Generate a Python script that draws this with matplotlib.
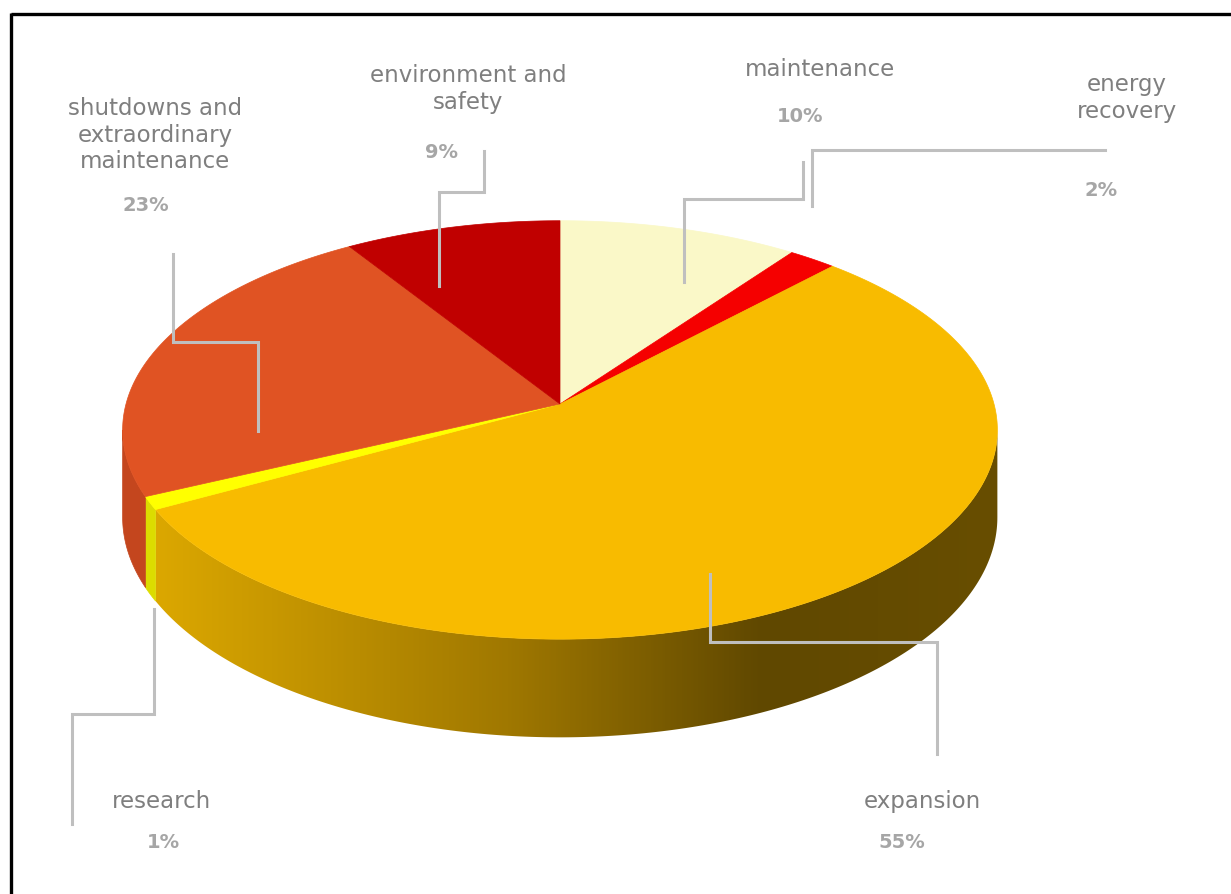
import numpy as np
import matplotlib.pyplot as plt
from matplotlib.patches import Polygon
from matplotlib.colors import LinearSegmentedColormap

# slices, clockwise from 12 o'clock
labels = ["maintenance", "energy\nrecovery", "expansion", "research",
          "shutdowns and\nextraordinary\nmaintenance", "environment and\nsafety"]
values = [10, 2, 55, 1, 23, 9]
pct_text = ["10%", "2%", "55%", "1%", "23%", "9%"]
top_colors = ["#FAF8C8", "#F50000", "#F8BB00", "#FFFF00", "#E05323", "#C00000"]
wall_colors = ["#D8D6A8", "#C80000", None, "#DCDC00", "#C4461E", "#A00000"]

# label layout (pixel coords) and leader paths
label_pos = [(820, 69), (1127, 98), (922, 802), (161, 802), (155, 135), (468, 89)]
pct_pos = [(800, 116), (1101, 190), (902, 843), (163, 843), (146, 205), (441, 152)]
leaders = [
    [(684, 283), (684, 200), (803, 200), (803, 163)],
    [(812, 207), (812, 151), (1105, 151)],
    [(710, 575), (710, 643), (937, 643), (937, 755)],
    [(154, 610), (154, 715), (72, 715), (72, 825)],
    [(258, 432), (258, 343), (173, 343), (173, 255)],
    [(439, 287), (439, 193), (484, 193), (484, 152)],
]

W, H_PX = 1231, 895
cx, cy = 560, 405
R, B, k, depth = 434, 206, 0.124, 86


def proj(theta, down=0.0):
    t = np.radians(theta)
    u, v = np.sin(t), np.cos(t)
    s = 1.0 / (1.0 + k * v)
    return cx + R * u * s, cy - B * v * s + depth * s * down


fig = plt.figure(figsize=(W / 100, H_PX / 100), dpi=100)
ax = fig.add_axes([0, 0, 1, 1])
ax.set_xlim(0, W)
ax.set_ylim(H_PX, 0)
ax.axis("off")

# frame (top and left only)
ax.plot([11, W], [14.5, 14.5], color="black", lw=2.4, solid_capstyle="butt")
ax.plot([11, 11], [14, H_PX], color="black", lw=2.4, solid_capstyle="butt")

fracs = np.array(values) / sum(values)
edges = np.concatenate([[0], np.cumsum(fracs) * 360])

# visible side wall: between the silhouette angles
th_sil = np.degrees(np.arccos(-k))
vis_lo, vis_hi = th_sil, 360 - th_sil

grad_cmap = LinearSegmentedColormap.from_list(
    "wall", [(0, "#DCA800"), (0.42, "#A07800"), (0.72, "#604800"), (1, "#684E00")])

for i in range(len(values)):
    a0, a1 = max(edges[i], vis_lo), min(edges[i + 1], vis_hi)
    if a1 <= a0:
        continue
    th = np.linspace(a0, a1, 200)
    xt, yt = proj(th)
    xb, yb = proj(th, 1.0)
    pts = np.column_stack([np.concatenate([xt, xb[::-1]]),
                           np.concatenate([yt, yb[::-1]])])
    if wall_colors[i] is None:
        poly = Polygon(pts, closed=True, facecolor="none", edgecolor="none")
        ax.add_patch(poly)
        grad = np.linspace(0, 1, 400)[None, :]
        im = ax.imshow(grad, cmap=grad_cmap, aspect="auto",
                       extent=(150, 1000, 760, 400), interpolation="bilinear")
        im.set_clip_path(poly)
    else:
        ax.add_patch(Polygon(pts, closed=True, facecolor=wall_colors[i],
                             edgecolor=wall_colors[i], lw=0.5))

# top faces
for i in range(len(values)):
    th = np.linspace(edges[i], edges[i + 1], 300)
    xt, yt = proj(th)
    pts = np.column_stack([np.concatenate([[cx], xt]), np.concatenate([[cy], yt])])
    ax.add_patch(Polygon(pts, closed=True, facecolor=top_colors[i],
                         edgecolor=top_colors[i], lw=0.5))

# leader lines
for path in leaders:
    xs, ys = zip(*path)
    ax.plot(xs, ys, color="#BFBFBF", lw=2.2, solid_joinstyle="miter")

# labels
for i in range(len(values)):
    ax.text(*label_pos[i], labels[i], ha="center", va="center", fontsize=16.5,
            color="#7F7F7F", linespacing=1.2, family="DejaVu Sans")
    ax.text(*pct_pos[i], pct_text[i], ha="center", va="center", fontsize=14,
            color="#A6A6A6", fontweight="bold",
            family=["Liberation Sans Narrow", "DejaVu Sans"])

fig.savefig("out.png", dpi=100)
